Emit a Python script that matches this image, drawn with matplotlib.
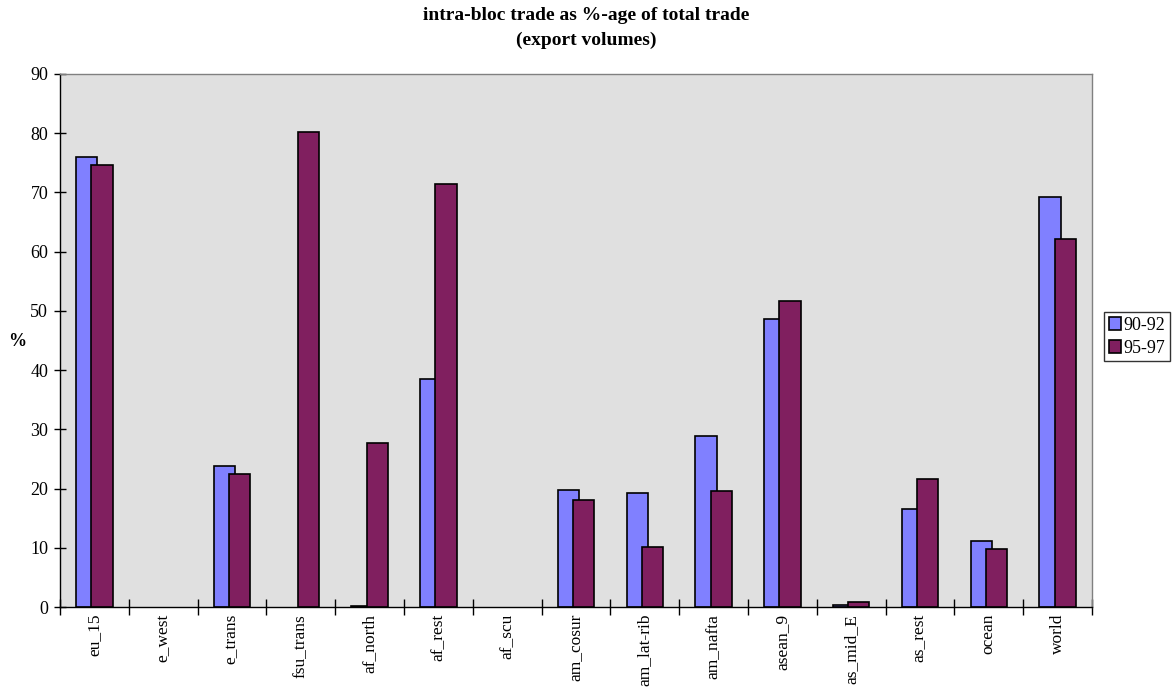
import matplotlib
matplotlib.use("Agg")
import matplotlib.pyplot as plt
import numpy as np

categories = ["eu_15", "e_west", "e_trans", "fsu_trans", "af_north", "af_rest",
              "af_scu", "am_cosur", "am_lat-rib", "am_nafta", "asean_9",
              "as_mid_E", "as_rest", "ocean", "world"]
vals_90_92 = [76.0, 0, 23.8, 0, 0.2, 38.5, 0, 19.8, 19.2, 28.9, 48.6, 0.4, 16.6, 11.2, 69.2]
vals_95_97 = [74.6, 0, 22.4, 80.2, 27.7, 71.4, 0, 18.1, 10.2, 19.6, 51.7, 0.8, 21.6, 9.8, 62.2]
series_labels = ["90-92", "95-97"]
yticks = list(range(0, 100, 10))

plt.rcParams['font.family'] = ['Liberation Serif', 'DejaVu Serif']

fig = plt.figure(figsize=(11.72, 6.9), dpi=100)
ax = fig.add_axes([60 / 1172, 1 - 607 / 690, 1032 / 1172, 533 / 690])
ax.set_facecolor("#E0E0E0")

x = np.arange(len(categories))
width = 0.31
off = 0.11


def edge_widths(vals):
    # empty blocs get no outline so nothing shows on the baseline
    return [1.2 if v > 0 else 0 for v in vals]


ax.bar(x - off, vals_90_92, width, color="#8080FF", edgecolor="black",
       linewidth=edge_widths(vals_90_92), label=series_labels[0], zorder=2)
ax.bar(x + off, vals_95_97, width, color="#801F5F", edgecolor="black",
       linewidth=edge_widths(vals_95_97), label=series_labels[1], zorder=3)

ax.set_xlim(-0.5, len(categories) - 0.5)
ax.set_ylim(0, 90)
ax.set_yticks(yticks)
ax.set_xticks(x)
ax.set_xticklabels(categories, rotation=90, fontsize=12.5)
ax.tick_params(axis='x', which='major', length=0, pad=5)
ax.set_xticks(np.arange(-0.5, len(categories), 1), minor=True)
ax.tick_params(axis='x', which='minor', direction='inout', length=11, width=1)
ax.tick_params(axis='y', direction='inout', length=9, width=1, labelsize=13, pad=4)

for side in ("top", "right"):
    ax.spines[side].set_color("#808080")
    ax.spines[side].set_linewidth(1)
for side in ("left", "bottom"):
    ax.spines[side].set_color("black")
    ax.spines[side].set_linewidth(1)

fig.text(17 / 1172, 1 - 341 / 690, "%", fontsize=13, fontweight="bold",
         ha="center", va="center")
fig.text(0.5, 1 - 16 / 690, "intra-bloc trade as %-age of total trade",
         fontsize=14, fontweight="bold", ha="center", va="center")
fig.text(0.5, 1 - 40 / 690, "(export volumes)", fontsize=14, fontweight="bold",
         ha="center", va="center")

leg = fig.legend(loc="upper left", bbox_to_anchor=(1104 / 1172, 1 - 312 / 690),
                 fontsize=13, frameon=True, fancybox=False, edgecolor="black",
                 handlelength=0.7, handleheight=0.7, handletextpad=0.15,
                 borderpad=0.25, labelspacing=0.35, borderaxespad=0)
leg.get_frame().set_linewidth(1)

fig.savefig("out.png", dpi=100)
